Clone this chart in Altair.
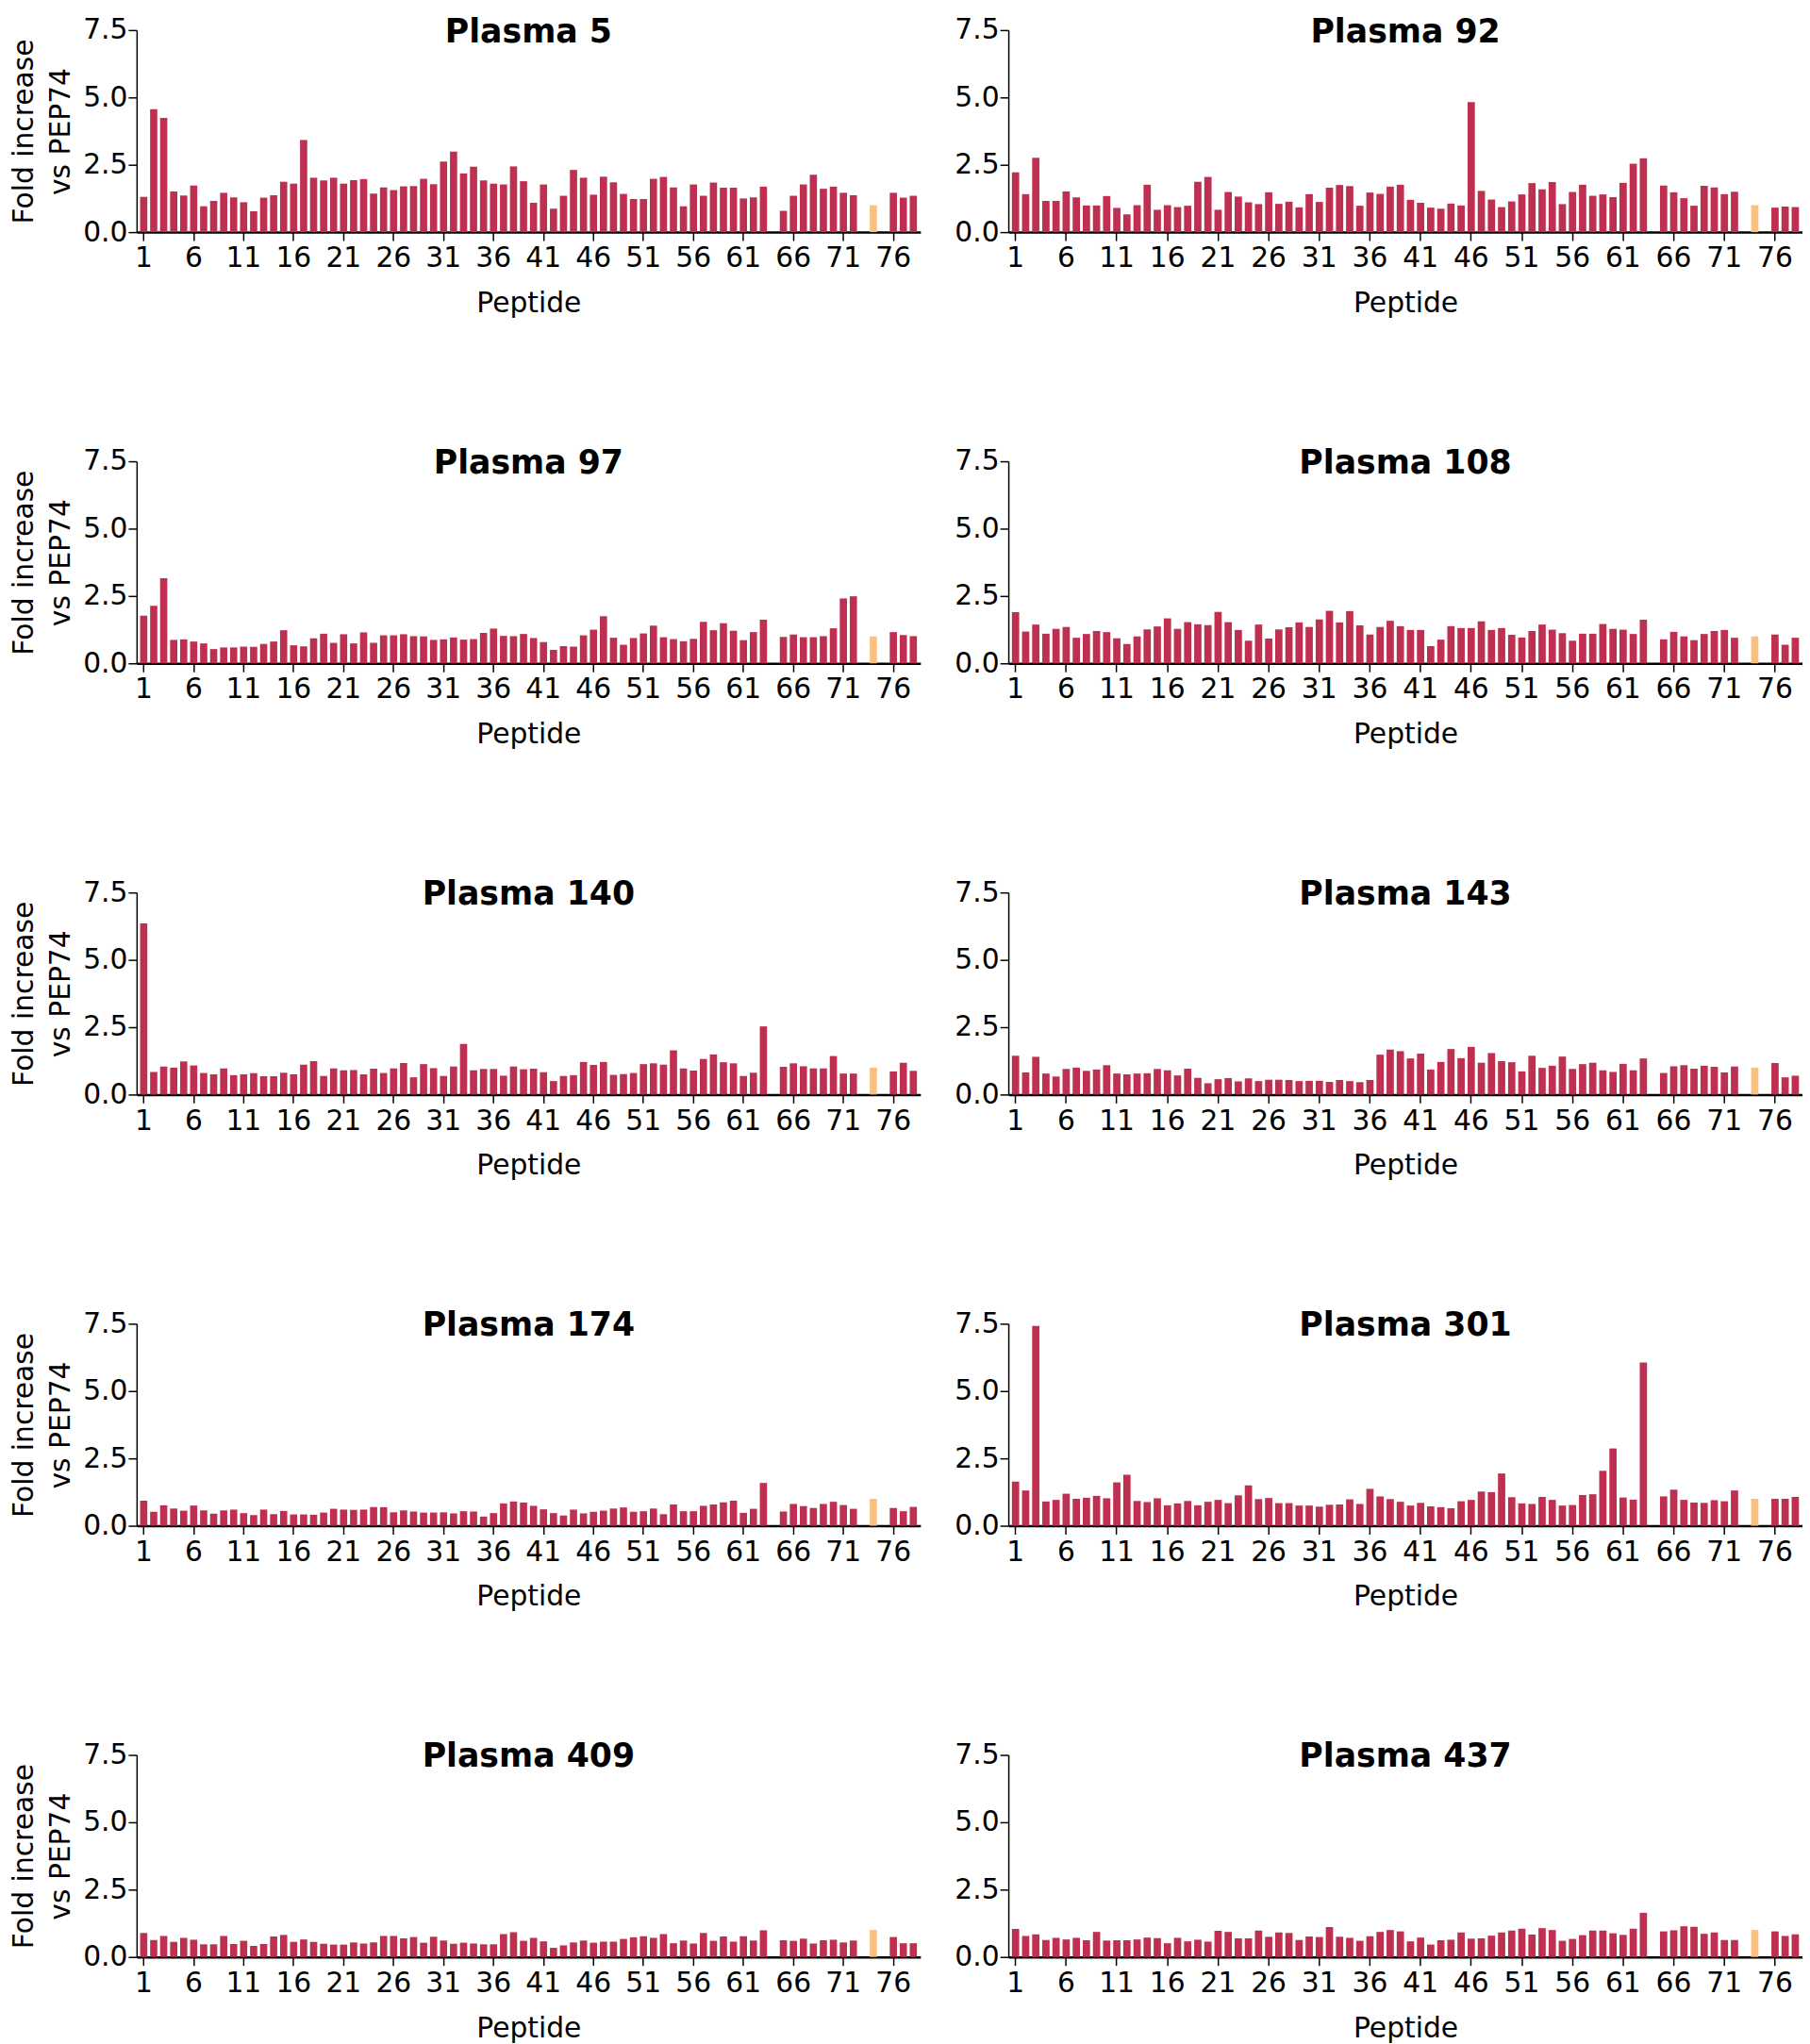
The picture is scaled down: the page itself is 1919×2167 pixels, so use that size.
import altair as alt
import pandas as pd

# Peptide numbering: 1-78; 64, 73, 75 were not measured; 74 (PEP74) is the reference (=1.0)
PEPTIDES_MAIN = list(range(1, 64)) + list(range(65, 73)) + [76, 77, 78]
REF_PEPTIDE = 74
REF_VALUE = 1.0
ALL_PEPTIDES = list(range(1, 79))
X_TICKS = [1, 6, 11, 16, 21, 26, 31, 36, 41, 46, 51, 56, 61, 66, 71, 76]
Y_TICKS = [0.0, 2.5, 5.0, 7.5]

plasma_5 = [1.31, 4.56, 4.24, 1.51, 1.36, 1.73, 0.96, 1.16, 1.46, 1.29,
            1.11, 0.77, 1.28, 1.37, 1.87, 1.80, 3.42, 2.02, 1.92, 2.02,
            1.80, 1.93, 1.97, 1.43, 1.66, 1.56, 1.70, 1.71, 1.98, 1.78,
            2.62, 2.99, 2.18, 2.43, 1.92, 1.80, 1.77, 2.44, 1.89, 1.09,
            1.77, 0.87, 1.35, 2.31, 2.02, 1.39, 2.06, 1.85, 1.42, 1.23,
            1.23, 1.98, 2.05, 1.66, 0.96, 1.77, 1.35, 1.84, 1.65, 1.65,
            1.25, 1.29, 1.69,
            0.79, 1.35, 1.77, 2.13, 1.61, 1.69, 1.46, 1.37,
            1.46, 1.28, 1.35]

plasma_92 = [2.22, 1.41, 2.76, 1.16, 1.16, 1.51, 1.29, 0.99, 0.99, 1.34,
             0.90, 0.66, 1.00, 1.76, 0.83, 1.00, 0.93, 0.98, 1.87, 2.05,
             0.83, 1.49, 1.32, 1.11, 1.04, 1.48, 1.05, 1.13, 0.92, 1.41,
             1.12, 1.65, 1.75, 1.71, 0.98, 1.47, 1.42, 1.69, 1.76, 1.20,
             1.09, 0.91, 0.87, 1.06, 0.99, 4.83, 1.53, 1.21, 0.93, 1.14,
             1.40, 1.82, 1.59, 1.86, 1.04, 1.49, 1.76, 1.35, 1.40, 1.30,
             1.83, 2.54, 2.74,
             1.73, 1.48, 1.26, 0.98, 1.72, 1.66, 1.41, 1.50,
             0.91, 0.95, 0.93]

plasma_97 = [1.77, 2.14, 3.16, 0.87, 0.89, 0.81, 0.74, 0.53, 0.59, 0.59,
             0.62, 0.61, 0.72, 0.81, 1.23, 0.67, 0.63, 0.93, 1.10, 0.76,
             1.08, 0.74, 1.15, 0.76, 1.04, 1.04, 1.08, 1.01, 1.00, 0.87,
             0.89, 0.96, 0.88, 0.90, 1.13, 1.29, 1.02, 1.01, 1.09, 0.94,
             0.79, 0.50, 0.64, 0.62, 1.04, 1.25, 1.75, 0.95, 0.69, 0.94,
             1.11, 1.40, 0.97, 0.90, 0.82, 0.91, 1.54, 1.23, 1.49, 1.21,
             0.86, 1.16, 1.62,
             0.98, 1.07, 0.97, 0.97, 1.01, 1.30, 2.41, 2.49,
             1.16, 1.05, 1.01]

plasma_108 = [1.90, 1.18, 1.44, 1.10, 1.28, 1.35, 0.95, 1.09, 1.20, 1.16,
              0.93, 0.72, 1.00, 1.26, 1.37, 1.67, 1.28, 1.53, 1.45, 1.42,
              1.91, 1.53, 1.24, 0.84, 1.44, 0.92, 1.26, 1.34, 1.52, 1.35,
              1.63, 1.95, 1.52, 1.94, 1.41, 1.07, 1.35, 1.58, 1.38, 1.24,
              1.24, 0.64, 0.88, 1.38, 1.31, 1.31, 1.56, 1.24, 1.31, 1.06,
              0.96, 1.20, 1.44, 1.25, 1.12, 0.84, 1.10, 1.10, 1.46, 1.28,
              1.25, 1.09, 1.62,
              0.89, 1.17, 1.00, 0.86, 1.09, 1.20, 1.24, 0.95,
              1.07, 0.69, 0.95]

plasma_140 = [6.35, 0.84, 1.04, 1.00, 1.23, 1.08, 0.80, 0.75, 0.97, 0.72,
              0.75, 0.79, 0.68, 0.68, 0.81, 0.75, 1.11, 1.24, 0.69, 0.97,
              0.90, 0.91, 0.75, 0.96, 0.80, 0.97, 1.17, 0.64, 1.13, 0.98,
              0.69, 1.04, 1.88, 0.90, 0.95, 0.95, 0.70, 1.04, 0.94, 0.96,
              0.83, 0.50, 0.69, 0.72, 1.21, 1.10, 1.21, 0.73, 0.76, 0.80,
              1.13, 1.16, 1.11, 1.64, 0.97, 0.89, 1.32, 1.49, 1.20, 1.16,
              0.69, 0.81, 2.53,
              1.03, 1.16, 1.05, 0.97, 0.97, 1.43, 0.78, 0.78,
              0.86, 1.18, 0.88]

plasma_143 = [1.44, 0.82, 1.40, 0.78, 0.67, 0.95, 1.00, 0.88, 0.93, 1.09,
              0.78, 0.75, 0.78, 0.79, 0.95, 0.90, 0.71, 0.96, 0.62, 0.42,
              0.57, 0.61, 0.49, 0.60, 0.50, 0.55, 0.55, 0.54, 0.50, 0.51,
              0.51, 0.47, 0.54, 0.50, 0.46, 0.54, 1.48, 1.67, 1.61, 1.34,
              1.52, 0.93, 1.21, 1.69, 1.35, 1.77, 1.18, 1.54, 1.24, 1.20,
              0.86, 1.44, 0.99, 1.07, 1.41, 0.95, 1.13, 1.18, 0.90, 0.84,
              1.14, 0.90, 1.34,
              0.80, 1.05, 1.09, 0.96, 1.07, 1.03, 0.82, 1.04,
              1.17, 0.64, 0.70]

plasma_174 = [0.93, 0.52, 0.76, 0.64, 0.56, 0.75, 0.57, 0.45, 0.57, 0.60,
              0.47, 0.40, 0.60, 0.43, 0.55, 0.42, 0.42, 0.41, 0.49, 0.63,
              0.60, 0.59, 0.60, 0.69, 0.69, 0.50, 0.57, 0.53, 0.49, 0.49,
              0.50, 0.46, 0.54, 0.53, 0.34, 0.47, 0.83, 0.90, 0.86, 0.74,
              0.61, 0.47, 0.38, 0.60, 0.46, 0.52, 0.56, 0.64, 0.68, 0.52,
              0.54, 0.64, 0.43, 0.79, 0.54, 0.54, 0.74, 0.79, 0.87, 0.93,
              0.48, 0.63, 1.59,
              0.53, 0.81, 0.73, 0.66, 0.81, 0.89, 0.77, 0.63,
              0.66, 0.54, 0.70]

plasma_301 = [1.64, 1.31, 7.42, 0.90, 0.96, 1.19, 1.00, 1.04, 1.11, 1.02,
              1.61, 1.89, 0.92, 0.88, 1.02, 0.76, 0.83, 0.92, 0.76, 0.89,
              0.96, 0.84, 1.13, 1.50, 0.99, 1.03, 0.84, 0.84, 0.75, 0.75,
              0.71, 0.78, 0.79, 0.98, 0.81, 1.37, 1.09, 0.99, 0.89, 0.75,
              0.85, 0.72, 0.69, 0.65, 0.91, 0.96, 1.27, 1.25, 1.94, 1.06,
              0.83, 0.81, 1.07, 0.96, 0.75, 0.77, 1.14, 1.17, 2.04, 2.87,
              1.05, 0.97, 6.06,
              1.09, 1.34, 0.96, 0.86, 0.85, 0.95, 0.91, 1.31,
              1.00, 1.00, 1.07]

plasma_409 = [0.89, 0.63, 0.78, 0.56, 0.71, 0.64, 0.47, 0.47, 0.78, 0.48,
              0.60, 0.41, 0.48, 0.76, 0.82, 0.56, 0.65, 0.56, 0.49, 0.46,
              0.46, 0.54, 0.50, 0.54, 0.78, 0.78, 0.69, 0.74, 0.53, 0.75,
              0.61, 0.49, 0.53, 0.50, 0.47, 0.47, 0.85, 0.92, 0.60, 0.71,
              0.58, 0.34, 0.43, 0.54, 0.61, 0.53, 0.57, 0.57, 0.67, 0.73,
              0.77, 0.71, 0.85, 0.51, 0.61, 0.50, 0.89, 0.60, 0.76, 0.57,
              0.77, 0.61, 0.99,
              0.62, 0.60, 0.68, 0.50, 0.62, 0.64, 0.54, 0.61,
              0.74, 0.51, 0.51]

plasma_437 = [1.04, 0.78, 0.84, 0.63, 0.71, 0.65, 0.71, 0.62, 0.93, 0.61,
              0.62, 0.62, 0.65, 0.72, 0.70, 0.51, 0.71, 0.58, 0.64, 0.57,
              0.97, 0.93, 0.69, 0.69, 0.98, 0.75, 0.91, 0.89, 0.63, 0.76,
              0.74, 1.11, 0.75, 0.71, 0.60, 0.77, 0.93, 1.00, 0.95, 0.58,
              0.72, 0.46, 0.62, 0.64, 0.91, 0.68, 0.69, 0.79, 0.91, 0.98,
              1.05, 0.83, 1.07, 1.00, 0.60, 0.67, 0.81, 0.98, 0.98, 0.88,
              0.82, 1.05, 1.64,
              0.95, 0.99, 1.14, 1.12, 0.86, 0.91, 0.63, 0.63,
              0.95, 0.78, 0.84]

PANELS = [
    ("Plasma 5", plasma_5), ("Plasma 92", plasma_92),
    ("Plasma 97", plasma_97), ("Plasma 108", plasma_108),
    ("Plasma 140", plasma_140), ("Plasma 143", plasma_143),
    ("Plasma 174", plasma_174), ("Plasma 301", plasma_301),
    ("Plasma 409", plasma_409), ("Plasma 437", plasma_437),
]

FONT = "DejaVu Sans"
RED = "#BF3050"
ORANGE = "#FBBF7E"
FS = 30


def make_panel(name, values, left):
    df = pd.DataFrame({"peptide": PEPTIDES_MAIN, "value": values, "kind": "test"})
    df = pd.concat([df, pd.DataFrame({"peptide": [REF_PEPTIDE], "value": [REF_VALUE], "kind": ["ref"]})],
                   ignore_index=True)
    common_y = dict(
        values=Y_TICKS, format=".1f", grid=False, tickSize=9, tickWidth=1.5, tickColor="black",
        domainColor="black", domainWidth=1.5, labelFontSize=FS, labelFont=FONT, labelColor="black",
        labelPadding=1,
    )
    if left:
        y_axis = alt.Axis(
            **common_y, title=["Fold increase", "vs PEP74"], titleFontSize=FS, titleFont=FONT,
            titleFontWeight="normal", titleColor="black", titlePadding=8, titleLineHeight=40,
        )
    else:
        y_axis = alt.Axis(**common_y, title=None)
    x_axis = alt.Axis(
        values=X_TICKS, labelAngle=0, grid=False, tickSize=9, tickWidth=1.5, tickColor="black",
        domainColor="black", domainWidth=2.5, labelFontSize=FS, labelFont=FONT, labelColor="black",
        labelPadding=4, title="Peptide", titleFontSize=FS, titleFont=FONT, titleFontWeight="normal",
        titleColor="black", titlePadding=18,
    )
    w = 838 if left else 849
    return alt.Chart(df).mark_bar().encode(
        x=alt.X("peptide:O", scale=alt.Scale(domain=ALL_PEPTIDES, paddingInner=0.28, paddingOuter=0.35),
                axis=x_axis),
        y=alt.Y("value:Q", scale=alt.Scale(domain=[0, 7.5], nice=False), axis=y_axis),
        color=alt.Color("kind:N", scale=alt.Scale(domain=["test", "ref"], range=[RED, ORANGE]), legend=None),
    ).properties(
        width=w, height=216,
        title=alt.TitleParams(name, fontSize=35, font=FONT, fontWeight="bold", color="black",
                              anchor="middle", frame="group", offset=-35),
    )


rows = []
for i in range(0, len(PANELS), 2):
    l = make_panel(PANELS[i][0], PANELS[i][1], True)
    r = make_panel(PANELS[i + 1][0], PANELS[i + 1][1], False)
    rows.append(alt.hconcat(l, r, spacing=36))

chart = alt.vconcat(*rows, spacing=139).properties(
    padding={"left": 2, "top": 0, "right": 0, "bottom": 0}
).configure_view(stroke=None)

chart.save("out.html", embed_options={"renderer": "svg", "actions": False})
